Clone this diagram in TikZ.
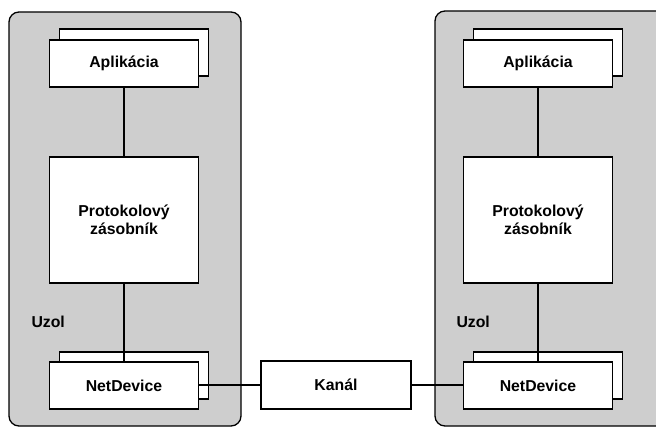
\documentclass[tikz,border=0pt]{standalone}
\usepackage{fontspec}
\setmainfont{Liberation Sans}
\definecolor{nodegray}{RGB}{206,206,206}
\begin{document}
\begin{tikzpicture}[x=1pt,y=-1pt,
  lbl/.style={font=\fontsize{15.8}{18}\selectfont\bfseries, align=center},
  box/.style={draw=black, line width=1.2pt, fill=white, inner sep=0pt,
              minimum width=149pt, minimum height=47pt, lbl},
  backbox/.style={box},
  stackbox/.style={box, minimum height=126pt},
  container/.style={draw=black, line width=1.3pt, fill=nodegray, rounded corners=10pt},
  wire/.style={draw=black, line width=2pt}
]
\useasboundingbox (0,0) rectangle (656,428);
\clip (0,0) rectangle (656,428);
\fill[white] (0,0) rectangle (656,428);

% the two nodes
\draw[container] (9,12) rectangle (241,426);
\draw[container] (435,11) rectangle (690,426);
\node[lbl, anchor=west] (uzolA) at (28,322) {Uzol};
\node[lbl, anchor=west] (uzolB) at (453,322) {Uzol};

% left node stack
\node[backbox] (appAb) at (134,52.5) {};
\node[box] (appA) at (124,63.5) {Aplikácia};
\node[stackbox] (stackA) at (124,220) {Protokolový\\zásobník};
\node[backbox] (ndAb) at (134,375.5) {};
\node[box] (ndA) at (124,385.5) {NetDevice};

% right node stack
\node[backbox] (appBb) at (548,52.5) {};
\node[box] (appB) at (538,63.5) {Aplikácia};
\node[stackbox] (stackB) at (538,220) {Protokolový\\zásobník};
\node[backbox] (ndBb) at (548,375.5) {};
\node[box] (ndB) at (538,385.5) {NetDevice};

% channel
\node[box, minimum width=150pt, minimum height=48pt] (kanal) at (336,385) {Kanál};

% connections
\draw[wire] (appA.south) -- (stackA.north);
\draw[wire] (stackA.south) -- (ndA.north);
\draw[wire] (appB.south) -- (stackB.north);
\draw[wire] (stackB.south) -- (ndB.north);
\draw[wire] (ndA.east |- kanal.west) -- (kanal.west);
\draw[wire] (kanal.east) -- (ndB.west |- kanal.east);
\end{tikzpicture}
\end{document}
